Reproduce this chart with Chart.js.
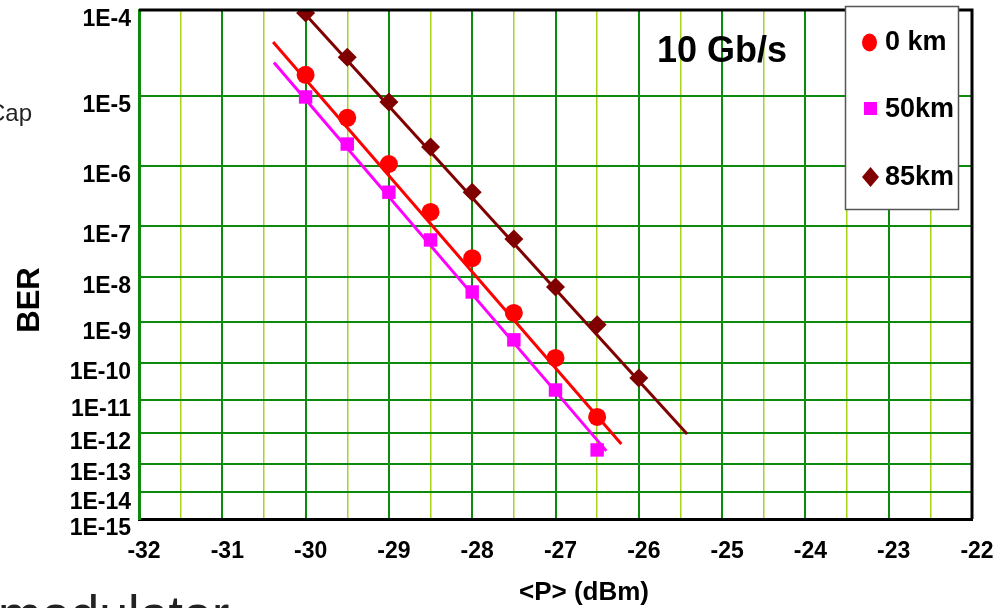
<!DOCTYPE html>
<html>
<head>
<meta charset="utf-8">
<script src="https://cdn.jsdelivr.net/npm/chart.js@4.4.1/dist/chart.umd.min.js"></script>
<style>
  html, body { margin: 0; padding: 0; background: #fff; }
  #wrap { position: relative; width: 1008px; height: 608px; overflow: hidden; font-family: "Liberation Sans", Arial, sans-serif; }
  #chart { position: absolute; left: 0; top: 0; }
  .slide { position: absolute; color: #222; white-space: nowrap; }
</style>
</head>
<body>
<div id="wrap">
  <canvas id="chart" width="1008" height="608"></canvas>
  <div class="slide" style="left:-12px; top:101px; font-size:24px; line-height:24px;">Cap</div>
  <div class="slide" style="left:-2px; top:588px; font-size:52px; line-height:52px;">modulator</div>
</div>
<script>
// received power, dBm
const powerDbm = [-30, -29.5, -29, -28.5, -28, -27.5, -27, -26.5];
const power85km = [-30, -29.5, -29, -28.5, -28, -27.5, -27, -26.5, -26];

// measured BER
const ber0km = [1.85e-5, 5.1e-6, 1.08e-6, 1.75e-7, 2.4e-8, 1.64e-9, 1.34e-10, 3.1e-12];
const ber50km = [9.7e-6, 2.16e-6, 3.8e-7, 5.4e-8, 4.8e-9, 3.8e-10, 1.86e-11, 2.9e-13];
const ber85km = [9.3e-5, 3.0e-5, 8.3e-6, 1.95e-6, 3.8e-7, 5.6e-8, 6.1e-9, 8.7e-10, 4.0e-11];

// fitted lines, start and end
const fit0kmP = [-30.39, -26.21];
const fit0kmBer = [4.5e-5, 4.5e-13];
const fit50kmP = [-30.38, -26.39];
const fit50kmBer = [2.6e-5, 2.7e-13];
const fit85kmP = [-30.05, -25.42];
const fit85kmBer = [1.0e-4, 9.3e-13];

const seriesNames = ['0 km', '50km', '85km'];
const berDecades = [4, 5, 6, 7, 8, 9, 10, 11, 12, 13, 14, 15];
const yTickLabels = berDecades.map(d => '1E-' + d);

const RED = '#ff0000';
const MAGENTA = '#ff00ff';
const BROWN = '#800000';
const DARK_GREEN = '#0b8a0b';
const LIGHT_GREEN = '#a8d41c';

// BER axis: log(-log(BER)) scale
const q = ber => Math.log10(-Math.log10(ber));
const pts = (xs, ys) => xs.map((x, i) => ({ x: x, y: q(ys[i]) }));

const overlay = {
    id: 'overlay',
    afterDraw(chart) {
        const ctx = chart.ctx;
        const a = chart.chartArea;
        ctx.save();

        // top and right frame
        ctx.strokeStyle = '#000';
        ctx.lineWidth = 3;
        ctx.beginPath();
        ctx.moveTo(a.left, a.top);
        ctx.lineTo(a.right, a.top);
        ctx.lineTo(a.right, a.bottom);
        ctx.stroke();

        ctx.fillStyle = '#000';
        ctx.textBaseline = 'middle';
        ctx.font = 'bold 36px "Liberation Sans", Arial, sans-serif';
        ctx.textAlign = 'left';
        ctx.fillText('10 Gb/s', 657, 52);

        ctx.font = 'bold 26px "Liberation Sans", Arial, sans-serif';
        ctx.textAlign = 'center';
        ctx.fillText('<P> (dBm)', 584, 593);

        ctx.save();
        ctx.translate(30, 300);
        ctx.rotate(-Math.PI / 2);
        ctx.font = 'bold 31px "Liberation Sans", Arial, sans-serif';
        ctx.fillText('BER', 0, 0);
        ctx.restore();

        // legend box
        ctx.fillStyle = '#fff';
        ctx.fillRect(845, 6, 114, 204);
        ctx.strokeStyle = '#555';
        ctx.lineWidth = 1.5;
        ctx.strokeRect(845.5, 6.5, 113, 203);

        const rows = [43, 110, 178];
        ctx.fillStyle = RED;
        ctx.beginPath();
        ctx.ellipse(869.5, 42.5, 7.5, 9, 0, 0, Math.PI * 2);
        ctx.fill();
        ctx.fillStyle = MAGENTA;
        ctx.fillRect(864, 102, 13, 13);
        ctx.fillStyle = BROWN;
        ctx.beginPath();
        ctx.moveTo(870.5, 167);
        ctx.lineTo(879, 177);
        ctx.lineTo(870.5, 187);
        ctx.lineTo(862, 177);
        ctx.closePath();
        ctx.fill();

        ctx.fillStyle = '#000';
        ctx.textAlign = 'left';
        ctx.font = 'bold 27px "Liberation Sans", Arial, sans-serif';
        seriesNames.forEach((n, i) => ctx.fillText(n, 885, rows[i]));
        ctx.restore();
    }
};

new Chart(document.getElementById('chart'), {
    type: 'scatter',
    data: {
        datasets: [
            {
                label: seriesNames[0],
                data: pts(powerDbm, ber0km),
                pointStyle: 'circle',
                pointRadius: 9,
                backgroundColor: RED,
                borderColor: RED,
                borderWidth: 0,
            },
            {
                label: seriesNames[1],
                data: pts(powerDbm, ber50km),
                pointStyle: 'rect',
                pointRadius: 9.5,
                backgroundColor: MAGENTA,
                borderColor: MAGENTA,
                borderWidth: 0,
            },
            {
                label: seriesNames[2],
                data: pts(power85km, ber85km),
                pointStyle: 'rectRot',
                pointRadius: 9.5,
                backgroundColor: BROWN,
                borderColor: BROWN,
                borderWidth: 0,
            },
            {
                label: 'fit 0 km',
                data: pts(fit0kmP, fit0kmBer),
                showLine: true,
                pointRadius: 0,
                borderColor: RED,
                borderWidth: 3,
            },
            {
                label: 'fit 50km',
                data: pts(fit50kmP, fit50kmBer),
                showLine: true,
                pointRadius: 0,
                borderColor: MAGENTA,
                borderWidth: 3,
            },
            {
                label: 'fit 85km',
                data: pts(fit85kmP, fit85kmBer),
                showLine: true,
                pointRadius: 0,
                borderColor: BROWN,
                borderWidth: 3,
            },
        ],
    },
    options: {
        responsive: false,
        animation: false,
        layout: { padding: { top: 10, right: 36, left: 0, bottom: 0 } },
        plugins: {
            legend: { display: false },
            tooltip: { enabled: false },
        },
        scales: {
            x: {
                type: 'linear',
                min: -32,
                max: -22,
                afterFit(scale) {
                    scale.height = 89;
                    scale.paddingLeft = 0;
                    scale.paddingRight = 0;
                },
                ticks: {
                    stepSize: 0.5,
                    autoSkip: false,
                    maxRotation: 0,
                    padding: 19,
                    labelOffset: 5,
                    color: '#000',
                    font: { family: '"Liberation Sans", Arial, sans-serif', size: 23, weight: 'bold' },
                    callback: v => Number.isInteger(v) ? String(v) : '',
                },
                grid: {
                    drawTicks: false,
                    color: c => Number.isInteger(c.tick.value) ? DARK_GREEN : LIGHT_GREEN,
                    lineWidth: c => Number.isInteger(c.tick.value) ? 2 : 1.5,
                },
                border: { color: '#000', width: 3 },
            },
            y: {
                type: 'linear',
                reverse: true,
                min: q(1e-4),
                max: q(1e-15),
                afterFit(scale) {
                    scale.width = 139;
                    scale.paddingTop = 0;
                    scale.paddingBottom = 0;
                },
                afterBuildTicks(scale) {
                    scale.ticks = berDecades.map(d => ({ value: q(Math.pow(10, -d)) }));
                },
                ticks: {
                    autoSkip: false,
                    padding: 8,
                    labelOffset: 10,
                    color: '#000',
                    font: { family: '"Liberation Sans", Arial, sans-serif', size: 23, weight: 'bold' },
                    callback: (v, i) => yTickLabels[i],
                },
                grid: {
                    drawTicks: false,
                    color: DARK_GREEN,
                    lineWidth: 2,
                },
                border: { color: DARK_GREEN, width: 3 },
            },
        },
    },
    plugins: [overlay],
});
</script>
</body>
</html>
